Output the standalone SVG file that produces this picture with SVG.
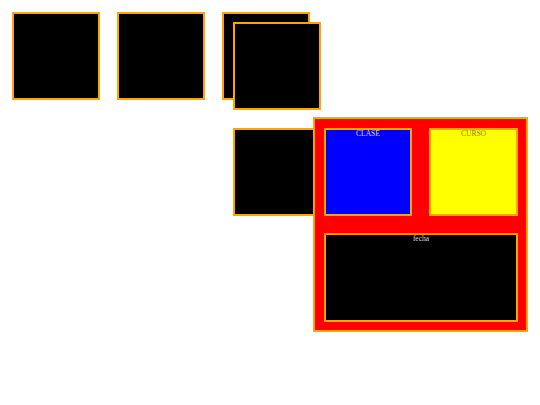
<svg xmlns="http://www.w3.org/2000/svg" width="540" height="405" viewBox="0 0 540 405">
<style>
.box{fill:#000;stroke:#FFA500;stroke-width:2}
.lbl{font-family:"Liberation Serif","Times New Roman",serif;font-size:7.5px;text-anchor:middle}
</style>
<rect width="540" height="405" fill="#fff"/>
<g id="node1"><rect class="box" x="13" y="13" width="86" height="86"/></g>
<g id="node2"><rect class="box" x="118" y="13" width="86" height="86"/></g>
<g id="node3"><rect class="box" x="223" y="13" width="86" height="86"/></g>
<g id="node4"><rect class="box" x="234" y="23" width="86" height="86"/></g>
<g id="node5"><rect class="box" x="234" y="129" width="86" height="86"/></g>
<g id="container">
<rect x="314" y="118" width="213" height="213" fill="#f00" stroke="#FFA500" stroke-width="2"/>
<g id="clase"><rect class="box" x="325" y="129" width="86" height="86" style="fill:#00f"/><text class="lbl" x="368" y="136" fill="#ddd">CLASE</text></g>
<g id="curso"><rect class="box" x="430" y="129" width="87" height="86" style="fill:#ff0"/><text class="lbl" x="473.5" y="136" fill="#7a8a00">CURSO</text></g>
<g id="fecha"><rect class="box" x="325" y="234" width="192" height="87"/><text class="lbl" x="421" y="241" fill="#ddd">fecha</text></g>
</g>
<g id="connectors"></g>
</svg>
